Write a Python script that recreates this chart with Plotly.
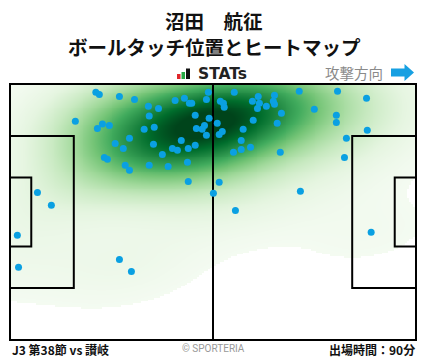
import numpy as np
import plotly.graph_objects as go

# ---- data (pitch metres, x: 0-105 left->right, y: 0-68 top->bottom) ----
touch_x = [22.2, 23.1, 28.3, 32.2, 35.8, 38.4, 36.0, 42.7, 45.1, 46.4, 47.0, 51.3, 50.8, 47.9,
           51.5, 50.3, 49.7, 48.2, 50.8, 16.9, 23.9, 22.6, 25.7, 34.7, 37.3, 27.2, 30.9, 29.3,
           37.1, 44.3, 42.0, 43.3, 46.1, 47.9, 39.4, 24.4, 25.2, 29.8, 30.9, 36.0, 40.9, 45.9,
           46.1, 52.6, 7.1, 10.7, 58.0, 64.2, 68.4, 62.7, 64.5, 64.0, 66.3, 68.1, 68.4, 54.4,
           55.2, 55.4, 70.2, 74.8, 84.7, 92.2, 78.7, 84.4, 84.4, 92.4, 87.0, 86.5, 53.6, 69.1,
           62.9, 60.3, 54.9, 54.1, 59.8, 59.8, 62.2, 57.8, 69.9, 54.1, 75.1, 58.3, 1.9, 2.2,
           28.3, 31.4, 93.4]
touch_y = [2.2, 2.8, 3.3, 4.1, 5.9, 6.5, 8.5, 4.4, 3.8, 5.1, 5.1, 2.2, 4.1, 8.3,
           9.1, 11.0, 12.0, 11.8, 13.6, 9.9, 10.6, 11.8, 11.0, 12.0, 11.5, 15.8, 14.4, 17.1,
           16.0, 15.0, 17.1, 17.6, 17.1, 16.3, 18.7, 19.5, 20.0, 21.6, 22.9, 21.6, 21.9, 20.8,
           25.9, 29.0, 28.8, 32.2, 2.2, 3.3, 3.0, 4.6, 5.1, 6.5, 5.9, 4.6, 5.4, 4.6,
           5.1, 6.2, 7.8, 1.9, 1.9, 3.8, 6.7, 8.3, 10.2, 12.3, 14.4, 19.5, 10.4, 10.4,
           9.6, 12.0, 12.6, 13.4, 15.0, 17.4, 16.8, 18.1, 18.1, 26.1, 28.5, 33.6, 40.2, 48.7,
           46.6, 49.8, 39.4]

title_name = "沼田　航征"
title_sub = "ボールタッチ位置とヒートマップ"
footer_left = "J3 第38節 vs 讃岐"
footer_mid = "© SPORTERIA"
footer_right = "出場時間：90分"
dir_label = "攻撃方向"

W, H = 428, 359
L, R, T, B = 10, 12, 84, 19
PW, PH = W - L - R, H - T - B


def px(x):
    return (x - L) / PW


def py(y):
    return (H - B - y) / PH


# ---- KDE (scott factor, full covariance) ----
X = np.array(touch_x)
Y = np.array(touch_y)
n = len(X)
fac = n ** (-1.0 / 6.0) * 1.45
cov = np.cov(np.vstack([X, Y])) * fac ** 2
inv = np.linalg.inv(cov)
gx = np.linspace(0, 105, 211)
gy = np.linspace(0, 68, 137)
GX, GY = np.meshgrid(gx, gy)
dens = np.zeros_like(GX)
for xi, yi in zip(X, Y):
    dx = GX - xi
    dy = GY - yi
    dens += np.exp(-0.5 * (inv[0, 0] * dx * dx + 2 * inv[0, 1] * dx * dy + inv[1, 1] * dy * dy))
dens = dens / dens.max()
thr = 0.02
z = np.where(dens < thr, np.nan, dens)

greens = [
    [0.0, "#f7fcf5"], [0.125, "#e5f5e0"], [0.25, "#c7e9c0"], [0.375, "#a1d99b"],
    [0.5, "#74c476"], [0.625, "#41ab5d"], [0.75, "#238b45"], [0.875, "#006d2c"], [1.0, "#00441b"],
]

fig = go.Figure()
fig.add_trace(go.Heatmap(x=gx, y=gy, z=z, zmin=0, zmax=0.95, colorscale=greens,
                         showscale=False, zsmooth="best", hoverinfo="skip"))

# pitch interior lines
line_kw = dict(mode="lines", line=dict(color="black", width=2), hoverinfo="skip", showlegend=False)
pb_y0, pb_y1 = (68 - 40.32) / 2, (68 + 40.32) / 2
ga_y0, ga_y1 = (68 - 18.32) / 2, (68 + 18.32) / 2
fig.add_trace(go.Scatter(x=[52.5, 52.5], y=[0, 68], **line_kw))
fig.add_trace(go.Scatter(x=[0, 16.5, 16.5, 0], y=[pb_y0, pb_y0, pb_y1, pb_y1], **line_kw))
fig.add_trace(go.Scatter(x=[0, 5.5, 5.5, 0], y=[ga_y0, ga_y0, ga_y1, ga_y1], **line_kw))
fig.add_trace(go.Scatter(x=[105, 88.5, 88.5, 105], y=[pb_y0, pb_y0, pb_y1, pb_y1], **line_kw))
fig.add_trace(go.Scatter(x=[105, 99.5, 99.5, 105], y=[ga_y0, ga_y0, ga_y1, ga_y1], **line_kw))

fig.add_trace(go.Scatter(x=touch_x, y=touch_y, mode="markers",
                         marker=dict(color="#0aa0e2", size=7, line=dict(width=0)),
                         showlegend=False, hoverinfo="skip"))

shapes = [
    dict(type="rect", xref="paper", yref="paper", x0=0, x1=1, y0=0, y1=1,
         line=dict(color="black", width=2), layer="above"),
    # stats icon bars
    dict(type="rect", xref="paper", yref="paper", x0=px(177), x1=px(180.5), y0=py(79), y1=py(74),
         fillcolor="#e0262b", line=dict(width=0)),
    dict(type="rect", xref="paper", yref="paper", x0=px(181.5), x1=px(185), y0=py(79), y1=py(72),
         fillcolor="#27a844", line=dict(width=0)),
    dict(type="rect", xref="paper", yref="paper", x0=px(186), x1=px(190), y0=py(79), y1=py(68.5),
         fillcolor="#111111", line=dict(width=0)),
    # attack direction arrow
    dict(type="path", xref="paper", yref="paper",
         path="M {} {} L {} {} L {} {} L {} {} L {} {} L {} {} L {} {} Z".format(
             px(391), py(68.5), px(404.5), py(68.5), px(404.5), py(64), px(414), py(72.5),
             px(404.5), py(81), px(404.5), py(76.5), px(391), py(76.5)),
         fillcolor="#17a0e2", line=dict(width=0)),
]

cjk = "Noto Sans CJK JP"
ann = [
    dict(text=f"<b>{title_name}</b>", x=px(214), y=py(20.5), font=dict(family=cjk, size=19.5, color="#111")),
    dict(text=f"<b>{title_sub}</b>", x=px(214), y=py(46.5), font=dict(family=cjk, size=19.5, color="#111")),
    dict(text="<b>STATs</b>", x=px(195.5), y=py(73.5), xanchor="left",
         font=dict(family="DejaVu Sans", size=15.5, color="#222")),
    dict(text=dir_label, x=px(385), y=py(72), xanchor="right", font=dict(family=cjk, size=14.5, color="#8a8a8a")),
    dict(text=f"<b>{footer_left}</b>", x=px(10), y=py(349), xanchor="left", font=dict(family=cjk, size=12, color="#111")),
    dict(text=footer_mid, x=px(213), y=py(348), font=dict(family="Roboto", size=10, color="#999")),
    dict(text=f"<b>{footer_right}</b>", x=px(417), y=py(349), xanchor="right", font=dict(family=cjk, size=12, color="#111")),
]
for a in ann:
    a.update(xref="paper", yref="paper", showarrow=False, yanchor=a.get("yanchor", "middle"),
             xanchor=a.get("xanchor", "center"))

fig.update_layout(
    width=W, height=H, margin=dict(l=L, r=R, t=T, b=B),
    paper_bgcolor="white", plot_bgcolor="white",
    xaxis=dict(range=[0, 105], visible=False, fixedrange=True),
    yaxis=dict(range=[68, 0], visible=False, fixedrange=True),
    shapes=shapes, annotations=ann, showlegend=False,
)
fig.write_html("out.html", config={"displayModeBar": False})
